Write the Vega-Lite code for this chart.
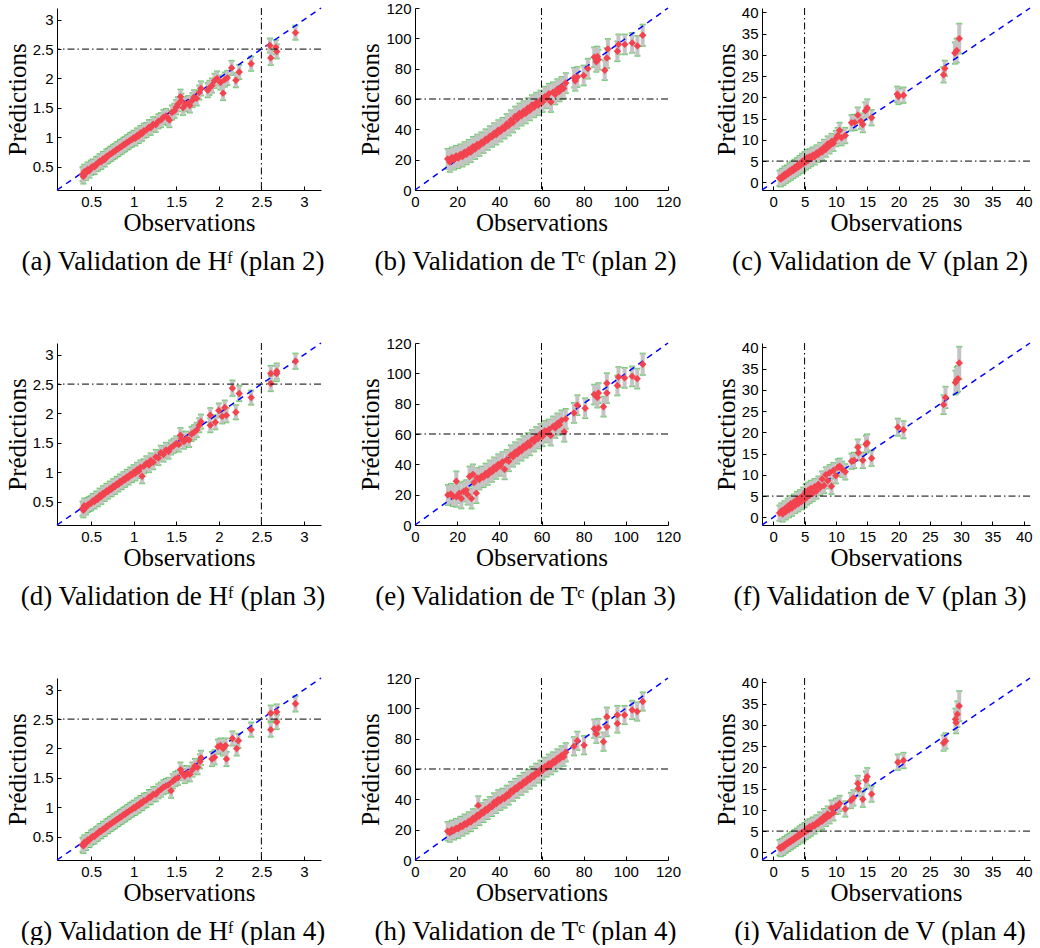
{
"$schema": "https://vega.github.io/schema/vega-lite/v6.json",
"padding": {"left": 5, "top": 1, "right": 0, "bottom": 0},
"background": "white",
"spacing": 335,
"bounds": "flush",
"datasets": {
"a": [{"o":0.40,"p":0.37,"e":0.12},{"o":0.41,"p":0.33,"e":0.12},{"o":0.42,"p":0.41,"e":0.12},{"o":0.44,"p":0.39,"e":0.12},{"o":0.46,"p":0.45,"e":0.12},{"o":0.48,"p":0.43,"e":0.12},{"o":0.50,"p":0.48,"e":0.12},{"o":0.52,"p":0.50,"e":0.12},{"o":0.54,"p":0.49,"e":0.12},{"o":0.56,"p":0.54,"e":0.12},{"o":0.58,"p":0.55,"e":0.12},{"o":0.60,"p":0.59,"e":0.12},{"o":0.62,"p":0.58,"e":0.12},{"o":0.64,"p":0.63,"e":0.12},{"o":0.66,"p":0.62,"e":0.12},{"o":0.68,"p":0.67,"e":0.12},{"o":0.70,"p":0.68,"e":0.12},{"o":0.72,"p":0.71,"e":0.12},{"o":0.74,"p":0.72,"e":0.12},{"o":0.76,"p":0.75,"e":0.12},{"o":0.78,"p":0.76,"e":0.12},{"o":0.80,"p":0.79,"e":0.12},{"o":0.82,"p":0.80,"e":0.12},{"o":0.84,"p":0.83,"e":0.12},{"o":0.86,"p":0.84,"e":0.12},{"o":0.88,"p":0.87,"e":0.12},{"o":0.90,"p":0.88,"e":0.12},{"o":0.92,"p":0.91,"e":0.12},{"o":0.94,"p":0.92,"e":0.12},{"o":0.96,"p":0.95,"e":0.12},{"o":0.98,"p":0.96,"e":0.12},{"o":1.00,"p":0.99,"e":0.12},{"o":1.02,"p":0.98,"e":0.12},{"o":1.04,"p":1.03,"e":0.12},{"o":1.06,"p":1.02,"e":0.12},{"o":1.08,"p":1.07,"e":0.12},{"o":1.10,"p":1.06,"e":0.12},{"o":1.12,"p":1.11,"e":0.12},{"o":1.15,"p":1.12,"e":0.12},{"o":1.18,"p":1.17,"e":0.12},{"o":1.20,"p":1.16,"e":0.12},{"o":1.23,"p":1.22,"e":0.12},{"o":1.26,"p":1.21,"e":0.12},{"o":1.29,"p":1.27,"e":0.12},{"o":1.32,"p":1.29,"e":0.12},{"o":1.35,"p":1.34,"e":0.12},{"o":1.38,"p":1.36,"e":0.12},{"o":1.40,"p":1.33,"e":0.12},{"o":1.42,"p":1.29,"e":0.12},{"o":1.45,"p":1.42,"e":0.12},{"o":1.48,"p":1.45,"e":0.12},{"o":1.50,"p":1.51,"e":0.12},{"o":1.52,"p":1.56,"e":0.12},{"o":1.55,"p":1.69,"e":0.12},{"o":1.56,"p":1.62,"e":0.12},{"o":1.58,"p":1.50,"e":0.12},{"o":1.61,"p":1.56,"e":0.12},{"o":1.64,"p":1.58,"e":0.12},{"o":1.66,"p":1.54,"e":0.12},{"o":1.69,"p":1.63,"e":0.12},{"o":1.71,"p":1.68,"e":0.12},{"o":1.74,"p":1.66,"e":0.12},{"o":1.77,"p":1.76,"e":0.12},{"o":1.79,"p":1.83,"e":0.12},{"o":1.87,"p":1.80,"e":0.12},{"o":1.89,"p":1.84,"e":0.12},{"o":1.92,"p":1.88,"e":0.12},{"o":1.95,"p":1.96,"e":0.12},{"o":1.98,"p":2.00,"e":0.12},{"o":2.02,"p":1.93,"e":0.12},{"o":2.05,"p":1.75,"e":0.12},{"o":2.07,"p":1.98,"e":0.12},{"o":2.10,"p":2.01,"e":0.12},{"o":2.15,"p":2.18,"e":0.12},{"o":2.20,"p":1.97,"e":0.12},{"o":2.24,"p":2.11,"e":0.12},{"o":2.38,"p":2.25,"e":0.12},{"o":2.60,"p":2.56,"e":0.12},{"o":2.61,"p":2.35,"e":0.12},{"o":2.67,"p":2.53,"e":0.12},{"o":2.68,"p":2.46,"e":0.12},{"o":2.90,"p":2.78,"e":0.12}],
"d": [{"o":0.40,"p":0.38,"e":0.12},{"o":0.41,"p":0.35,"e":0.12},{"o":0.42,"p":0.43,"e":0.12},{"o":0.44,"p":0.40,"e":0.12},{"o":0.46,"p":0.44,"e":0.12},{"o":0.48,"p":0.46,"e":0.12},{"o":0.50,"p":0.47,"e":0.12},{"o":0.52,"p":0.51,"e":0.12},{"o":0.54,"p":0.50,"e":0.12},{"o":0.56,"p":0.55,"e":0.12},{"o":0.58,"p":0.54,"e":0.12},{"o":0.60,"p":0.60,"e":0.12},{"o":0.62,"p":0.58,"e":0.12},{"o":0.64,"p":0.64,"e":0.12},{"o":0.66,"p":0.63,"e":0.12},{"o":0.68,"p":0.68,"e":0.12},{"o":0.70,"p":0.67,"e":0.12},{"o":0.72,"p":0.72,"e":0.12},{"o":0.74,"p":0.71,"e":0.12},{"o":0.76,"p":0.76,"e":0.12},{"o":0.78,"p":0.75,"e":0.12},{"o":0.80,"p":0.80,"e":0.12},{"o":0.82,"p":0.79,"e":0.12},{"o":0.84,"p":0.84,"e":0.12},{"o":0.86,"p":0.83,"e":0.12},{"o":0.88,"p":0.88,"e":0.12},{"o":0.90,"p":0.87,"e":0.12},{"o":0.92,"p":0.92,"e":0.12},{"o":0.94,"p":0.91,"e":0.12},{"o":0.96,"p":0.96,"e":0.12},{"o":0.98,"p":0.95,"e":0.12},{"o":1.00,"p":1.00,"e":0.12},{"o":1.02,"p":0.98,"e":0.12},{"o":1.04,"p":1.04,"e":0.12},{"o":1.06,"p":1.02,"e":0.12},{"o":1.08,"p":1.08,"e":0.12},{"o":1.10,"p":0.93,"e":0.12},{"o":1.12,"p":1.10,"e":0.12},{"o":1.15,"p":1.15,"e":0.12},{"o":1.18,"p":1.12,"e":0.12},{"o":1.20,"p":1.20,"e":0.12},{"o":1.23,"p":1.17,"e":0.12},{"o":1.26,"p":1.26,"e":0.12},{"o":1.29,"p":1.24,"e":0.12},{"o":1.32,"p":1.33,"e":0.12},{"o":1.35,"p":1.30,"e":0.12},{"o":1.38,"p":1.38,"e":0.12},{"o":1.41,"p":1.35,"e":0.12},{"o":1.44,"p":1.42,"e":0.12},{"o":1.47,"p":1.45,"e":0.12},{"o":1.50,"p":1.49,"e":0.12},{"o":1.53,"p":1.47,"e":0.12},{"o":1.55,"p":1.63,"e":0.12},{"o":1.56,"p":1.57,"e":0.12},{"o":1.59,"p":1.52,"e":0.12},{"o":1.62,"p":1.57,"e":0.12},{"o":1.65,"p":1.55,"e":0.12},{"o":1.68,"p":1.65,"e":0.12},{"o":1.71,"p":1.68,"e":0.12},{"o":1.74,"p":1.72,"e":0.12},{"o":1.77,"p":1.80,"e":0.12},{"o":1.79,"p":1.86,"e":0.12},{"o":1.90,"p":1.80,"e":0.12},{"o":1.90,"p":1.97,"e":0.12},{"o":1.96,"p":1.85,"e":0.12},{"o":2.00,"p":2.05,"e":0.12},{"o":2.04,"p":1.95,"e":0.12},{"o":2.07,"p":2.10,"e":0.12},{"o":2.09,"p":1.97,"e":0.12},{"o":2.16,"p":2.43,"e":0.13},{"o":2.20,"p":2.02,"e":0.12},{"o":2.24,"p":2.34,"e":0.13},{"o":2.38,"p":2.27,"e":0.12},{"o":2.61,"p":2.68,"e":0.13},{"o":2.61,"p":2.51,"e":0.13},{"o":2.68,"p":2.68,"e":0.13},{"o":2.68,"p":2.72,"e":0.13},{"o":2.90,"p":2.89,"e":0.13}],
"g": [{"o":0.40,"p":0.36,"e":0.12},{"o":0.41,"p":0.34,"e":0.12},{"o":0.42,"p":0.40,"e":0.12},{"o":0.44,"p":0.39,"e":0.12},{"o":0.46,"p":0.44,"e":0.12},{"o":0.48,"p":0.44,"e":0.12},{"o":0.50,"p":0.48,"e":0.12},{"o":0.52,"p":0.50,"e":0.12},{"o":0.54,"p":0.50,"e":0.12},{"o":0.56,"p":0.54,"e":0.12},{"o":0.58,"p":0.55,"e":0.12},{"o":0.60,"p":0.59,"e":0.12},{"o":0.62,"p":0.59,"e":0.12},{"o":0.64,"p":0.63,"e":0.12},{"o":0.66,"p":0.63,"e":0.12},{"o":0.68,"p":0.67,"e":0.12},{"o":0.70,"p":0.68,"e":0.12},{"o":0.72,"p":0.71,"e":0.12},{"o":0.74,"p":0.72,"e":0.12},{"o":0.76,"p":0.75,"e":0.12},{"o":0.78,"p":0.76,"e":0.12},{"o":0.80,"p":0.79,"e":0.12},{"o":0.82,"p":0.80,"e":0.12},{"o":0.84,"p":0.83,"e":0.12},{"o":0.86,"p":0.84,"e":0.12},{"o":0.88,"p":0.87,"e":0.12},{"o":0.90,"p":0.88,"e":0.12},{"o":0.92,"p":0.91,"e":0.12},{"o":0.94,"p":0.92,"e":0.12},{"o":0.96,"p":0.95,"e":0.12},{"o":0.98,"p":0.96,"e":0.12},{"o":1.00,"p":0.99,"e":0.12},{"o":1.02,"p":0.99,"e":0.12},{"o":1.04,"p":1.03,"e":0.12},{"o":1.06,"p":1.03,"e":0.12},{"o":1.08,"p":1.07,"e":0.12},{"o":1.10,"p":1.07,"e":0.12},{"o":1.12,"p":1.11,"e":0.12},{"o":1.15,"p":1.12,"e":0.12},{"o":1.18,"p":1.17,"e":0.12},{"o":1.20,"p":1.17,"e":0.12},{"o":1.23,"p":1.22,"e":0.12},{"o":1.26,"p":1.22,"e":0.12},{"o":1.29,"p":1.27,"e":0.12},{"o":1.32,"p":1.30,"e":0.12},{"o":1.35,"p":1.34,"e":0.12},{"o":1.38,"p":1.36,"e":0.12},{"o":1.41,"p":1.38,"e":0.12},{"o":1.44,"p":1.28,"e":0.12},{"o":1.46,"p":1.44,"e":0.12},{"o":1.49,"p":1.48,"e":0.12},{"o":1.52,"p":1.50,"e":0.12},{"o":1.55,"p":1.64,"e":0.12},{"o":1.57,"p":1.58,"e":0.12},{"o":1.60,"p":1.53,"e":0.12},{"o":1.63,"p":1.58,"e":0.12},{"o":1.66,"p":1.56,"e":0.12},{"o":1.69,"p":1.64,"e":0.12},{"o":1.72,"p":1.70,"e":0.12},{"o":1.75,"p":1.68,"e":0.12},{"o":1.78,"p":1.78,"e":0.12},{"o":1.79,"p":1.84,"e":0.12},{"o":1.92,"p":1.82,"e":0.12},{"o":1.95,"p":1.85,"e":0.12},{"o":1.99,"p":2.03,"e":0.12},{"o":2.02,"p":2.05,"e":0.12},{"o":2.05,"p":2.00,"e":0.12},{"o":2.08,"p":2.05,"e":0.12},{"o":2.09,"p":1.82,"e":0.12},{"o":2.16,"p":2.17,"e":0.12},{"o":2.21,"p":2.00,"e":0.12},{"o":2.23,"p":2.13,"e":0.12},{"o":2.38,"p":2.32,"e":0.12},{"o":2.61,"p":2.60,"e":0.13},{"o":2.61,"p":2.32,"e":0.12},{"o":2.68,"p":2.62,"e":0.13},{"o":2.68,"p":2.45,"e":0.12},{"o":2.90,"p":2.76,"e":0.13}],
"b": [{"o":15.5,"p":20.5,"e":6.5},{"o":16.5,"p":18.5,"e":6.5},{"o":17.5,"p":21.5,"e":6.5},{"o":18.5,"p":20,"e":6.5},{"o":19.5,"p":22.5,"e":6.5},{"o":20.5,"p":21,"e":6.5},{"o":21.5,"p":23.5,"e":6.5},{"o":22.5,"p":22,"e":6.5},{"o":23.5,"p":25,"e":6.5},{"o":24.5,"p":23.5,"e":6.5},{"o":25.5,"p":26.5,"e":6.5},{"o":26.5,"p":25,"e":6.5},{"o":27.5,"p":28.5,"e":6.5},{"o":28.5,"p":27,"e":6.5},{"o":29.5,"p":30,"e":6.5},{"o":30.5,"p":29,"e":6.5},{"o":31.5,"p":31.5,"e":6.5},{"o":32.5,"p":31,"e":6.5},{"o":33.5,"p":33.5,"e":6.5},{"o":34.5,"p":33,"e":6.5},{"o":35.5,"p":35.5,"e":6.5},{"o":36.5,"p":35,"e":6.5},{"o":37.5,"p":37.5,"e":6.5},{"o":38.5,"p":36.5,"e":6.5},{"o":39.5,"p":39.5,"e":6.5},{"o":40.5,"p":38.5,"e":6.5},{"o":41.5,"p":41,"e":6.5},{"o":42.5,"p":40.5,"e":6.5},{"o":43.5,"p":43.5,"e":6.5},{"o":44.5,"p":42.5,"e":6.5},{"o":45.5,"p":46,"e":6.5},{"o":46.5,"p":44.5,"e":6.5},{"o":47.5,"p":48.5,"e":6.5},{"o":48.5,"p":47,"e":6.5},{"o":49.5,"p":50.5,"e":6.5},{"o":50.5,"p":49,"e":6.5},{"o":51.5,"p":52,"e":6.5},{"o":52.5,"p":50.5,"e":6.5},{"o":53.5,"p":54,"e":6.5},{"o":54.5,"p":52.5,"e":6.5},{"o":55.5,"p":56,"e":6.5},{"o":56.5,"p":54.5,"e":6.5},{"o":57.5,"p":57.5,"e":6.5},{"o":58.5,"p":56,"e":6.5},{"o":59.5,"p":59,"e":6.5},{"o":60.5,"p":58,"e":6.5},{"o":61.5,"p":61.5,"e":6.5},{"o":62.5,"p":60.5,"e":6.5},{"o":63.5,"p":63.5,"e":6.5},{"o":64.5,"p":58,"e":6.5},{"o":65.5,"p":64.5,"e":6.5},{"o":66.5,"p":63,"e":6.5},{"o":67.5,"p":66.5,"e":6.5},{"o":68.5,"p":65,"e":6.5},{"o":69.5,"p":68,"e":6.5},{"o":70.5,"p":67,"e":6.5},{"o":71.5,"p":70.5,"e":6.5},{"o":75.5,"p":74,"e":6.5},{"o":76,"p":72,"e":6.5},{"o":77,"p":74.5,"e":6.5},{"o":80,"p":75.5,"e":6.5},{"o":82,"p":80,"e":6.5},{"o":85,"p":87.5,"e":6.5},{"o":86,"p":84.5,"e":6.5},{"o":86.5,"p":88,"e":6.5},{"o":87,"p":86,"e":6.5},{"o":90,"p":79,"e":6.5},{"o":91,"p":87,"e":6.5},{"o":91.5,"p":93,"e":6.5},{"o":96,"p":91.5,"e":6.5},{"o":96.5,"p":96,"e":6.5},{"o":99.5,"p":96,"e":6.5},{"o":103,"p":97,"e":6.5},{"o":105.5,"p":95,"e":6.5},{"o":108,"p":102,"e":7}],
"e": [{"o":15.6,"p":19.8,"e":6.5},{"o":17,"p":20.5,"e":6.5},{"o":18,"p":19,"e":6.5},{"o":19.6,"p":28.8,"e":6.5},{"o":19.6,"p":18.6,"e":6.5},{"o":21,"p":21,"e":6.5},{"o":22,"p":17.5,"e":6.5},{"o":23,"p":22,"e":6.5},{"o":24.3,"p":23,"e":6.5},{"o":25,"p":20,"e":6.5},{"o":25.9,"p":32,"e":6.5},{"o":26.8,"p":17.4,"e":6.5},{"o":27.5,"p":33.4,"e":6.5},{"o":28,"p":28,"e":6.5},{"o":29.1,"p":21,"e":6.5},{"o":29.5,"p":31,"e":6.5},{"o":30.5,"p":30,"e":6.5},{"o":31.5,"p":32,"e":6.5},{"o":32.5,"p":31.5,"e":6.5},{"o":33.5,"p":34,"e":6.5},{"o":34.5,"p":33,"e":6.5},{"o":35.5,"p":36,"e":6.5},{"o":36.5,"p":35,"e":6.5},{"o":37.5,"p":38,"e":6.5},{"o":38.5,"p":37,"e":6.5},{"o":39.5,"p":40,"e":6.5},{"o":40.5,"p":39,"e":6.5},{"o":41.5,"p":41.5,"e":6.5},{"o":42.5,"p":36.7,"e":6.5},{"o":43.5,"p":43,"e":6.5},{"o":44.5,"p":42,"e":6.5},{"o":45.5,"p":46,"e":6.5},{"o":46.5,"p":45,"e":6.5},{"o":47.5,"p":48,"e":6.5},{"o":48.5,"p":47,"e":6.5},{"o":49.5,"p":50,"e":6.5},{"o":50.5,"p":49,"e":6.5},{"o":51.5,"p":52,"e":6.5},{"o":52.5,"p":51,"e":6.5},{"o":53.5,"p":54,"e":6.5},{"o":54.5,"p":52.5,"e":6.5},{"o":55.5,"p":56,"e":6.5},{"o":56.5,"p":55,"e":6.5},{"o":57.5,"p":58,"e":6.5},{"o":58.5,"p":57,"e":6.5},{"o":59.5,"p":60,"e":6.5},{"o":60.5,"p":58.5,"e":6.5},{"o":61.5,"p":62,"e":6.5},{"o":62.5,"p":61,"e":6.5},{"o":63.5,"p":63,"e":6.5},{"o":64.4,"p":59,"e":6.5},{"o":65.5,"p":65,"e":6.5},{"o":66.5,"p":64,"e":6.5},{"o":67.5,"p":67,"e":6.5},{"o":68.5,"p":66,"e":6.5},{"o":69.5,"p":69,"e":6.5},{"o":70.8,"p":61.5,"e":6.5},{"o":71.5,"p":70,"e":6.5},{"o":75.4,"p":73.9,"e":6.5},{"o":77,"p":79,"e":6.5},{"o":80.7,"p":77,"e":6.5},{"o":85,"p":86,"e":6.5},{"o":86.5,"p":84,"e":6.5},{"o":87,"p":87,"e":6.5},{"o":89.4,"p":78,"e":6.5},{"o":91,"p":87,"e":6.5},{"o":91,"p":93.5,"e":6.5},{"o":96,"p":92,"e":6.5},{"o":96.5,"p":97.6,"e":6.5},{"o":99.4,"p":97,"e":6.5},{"o":103,"p":98,"e":6.5},{"o":105.4,"p":96.5,"e":6.5},{"o":108,"p":106,"e":7}],
"h": [{"o":15.5,"p":19,"e":6},{"o":16.5,"p":18,"e":6},{"o":17.5,"p":20,"e":6},{"o":18.5,"p":19.5,"e":6},{"o":19.5,"p":21,"e":6},{"o":20.5,"p":20.5,"e":6},{"o":21.5,"p":22.5,"e":6},{"o":22.5,"p":22,"e":6},{"o":23.5,"p":24,"e":6},{"o":24.5,"p":23.5,"e":6},{"o":25.5,"p":25.5,"e":6},{"o":26.5,"p":25,"e":6},{"o":27.5,"p":27.5,"e":6},{"o":28.5,"p":27,"e":6},{"o":29.5,"p":29.5,"e":6},{"o":30,"p":36,"e":6},{"o":30.5,"p":29,"e":6},{"o":31.5,"p":31.5,"e":6},{"o":32.5,"p":31,"e":6},{"o":33.5,"p":33.5,"e":6},{"o":34.5,"p":33,"e":6},{"o":35.5,"p":35.5,"e":6},{"o":36.5,"p":35,"e":6},{"o":37.5,"p":38,"e":6},{"o":38.5,"p":37,"e":6},{"o":39.5,"p":40,"e":6},{"o":40.5,"p":39,"e":6},{"o":41.5,"p":41,"e":6},{"o":42.5,"p":40.5,"e":6},{"o":43.5,"p":43,"e":6},{"o":44.5,"p":42.5,"e":6},{"o":45.5,"p":45.5,"e":6},{"o":46.5,"p":45,"e":6},{"o":47.5,"p":47.5,"e":6},{"o":48.5,"p":47,"e":6},{"o":49.5,"p":49.5,"e":6},{"o":50.5,"p":49,"e":6},{"o":51.5,"p":51.5,"e":6},{"o":52.5,"p":51,"e":6},{"o":53.5,"p":53.5,"e":6},{"o":54.5,"p":53,"e":6},{"o":55.5,"p":55.5,"e":6},{"o":56.5,"p":55,"e":6},{"o":57.5,"p":57.5,"e":6},{"o":58.5,"p":57,"e":6},{"o":59.5,"p":59.5,"e":6},{"o":60.5,"p":59,"e":6},{"o":61.5,"p":61.5,"e":6},{"o":62.5,"p":61,"e":6},{"o":63.5,"p":63.5,"e":6},{"o":64.5,"p":62.5,"e":6},{"o":65.5,"p":65,"e":6},{"o":66.5,"p":64.5,"e":6},{"o":67.5,"p":67,"e":6},{"o":68.5,"p":66.5,"e":6},{"o":69.5,"p":69,"e":6},{"o":70.5,"p":68,"e":6},{"o":71.5,"p":71,"e":6},{"o":75.4,"p":75,"e":6},{"o":77,"p":78.6,"e":6},{"o":80.2,"p":75.7,"e":6},{"o":85,"p":86.6,"e":6},{"o":86,"p":83.2,"e":6},{"o":87,"p":87,"e":6},{"o":89.4,"p":78,"e":6},{"o":91,"p":94.5,"e":6},{"o":91,"p":87.7,"e":6},{"o":96,"p":95.6,"e":6},{"o":96,"p":90,"e":6},{"o":99.4,"p":95.6,"e":6},{"o":103,"p":98.9,"e":6},{"o":105.4,"p":97.9,"e":6},{"o":108,"p":104.5,"e":6}],
"c": [{"o":1.0,"p":1.0,"e":1.8},{"o":1.2,"p":0.8,"e":1.8},{"o":1.4,"p":1.4,"e":1.8},{"o":1.6,"p":1.2,"e":1.8},{"o":1.8,"p":1.9,"e":1.8},{"o":2.0,"p":1.6,"e":1.8},{"o":2.2,"p":2.2,"e":1.8},{"o":2.4,"p":2.0,"e":1.8},{"o":2.6,"p":2.7,"e":1.8},{"o":2.8,"p":2.4,"e":1.8},{"o":3.0,"p":3.1,"e":1.8},{"o":3.2,"p":2.8,"e":1.8},{"o":3.4,"p":3.5,"e":1.8},{"o":3.6,"p":3.2,"e":1.8},{"o":3.8,"p":3.9,"e":1.8},{"o":4.0,"p":3.6,"e":1.8},{"o":4.2,"p":4.4,"e":1.8},{"o":4.4,"p":4.0,"e":1.8},{"o":4.6,"p":4.9,"e":1.8},{"o":4.8,"p":4.4,"e":1.8},{"o":5.0,"p":5.3,"e":1.8},{"o":5.2,"p":4.8,"e":1.8},{"o":5.4,"p":5.8,"e":1.8},{"o":5.6,"p":5.2,"e":1.8},{"o":5.8,"p":6.0,"e":1.8},{"o":6.0,"p":5.6,"e":1.8},{"o":6.3,"p":6.4,"e":1.8},{"o":6.6,"p":6.0,"e":1.8},{"o":6.9,"p":6.9,"e":1.8},{"o":7.2,"p":6.6,"e":1.8},{"o":7.5,"p":7.5,"e":1.8},{"o":7.8,"p":7.1,"e":1.8},{"o":8.1,"p":8.2,"e":1.8},{"o":8.4,"p":7.8,"e":1.8},{"o":8.7,"p":9.0,"e":1.8},{"o":9.0,"p":8.6,"e":1.8},{"o":9.3,"p":9.6,"e":1.8},{"o":9.6,"p":9.2,"e":1.8},{"o":10.0,"p":10.3,"e":1.8},{"o":10.3,"p":11.0,"e":1.8},{"o":10.6,"p":12.2,"e":1.8},{"o":10.9,"p":10.5,"e":1.8},{"o":11.5,"p":11.0,"e":1.8},{"o":12.5,"p":14.0,"e":1.8},{"o":13.0,"p":14.1,"e":1.8},{"o":13.5,"p":15.8,"e":1.8},{"o":14.0,"p":14.4,"e":1.8},{"o":14.3,"p":13.6,"e":1.8},{"o":14.7,"p":16.8,"e":2},{"o":15.0,"p":17.5,"e":2},{"o":15.7,"p":15.2,"e":1.8},{"o":19.8,"p":20.7,"e":1.8},{"o":20.0,"p":20.2,"e":1.8},{"o":20.8,"p":20.5,"e":1.8},{"o":27.2,"p":25.3,"e":1.8},{"o":27.4,"p":26.8,"e":1.8},{"o":29.0,"p":30.4,"e":2.5},{"o":29.3,"p":31.0,"e":2.8},{"o":29.7,"p":33.8,"e":3.5}],
"f": [{"o":1.0,"p":1.0,"e":1.8},{"o":1.3,"p":1.5,"e":1.8},{"o":1.5,"p":0.8,"e":1.8},{"o":1.8,"p":2.0,"e":1.8},{"o":2.0,"p":1.3,"e":1.8},{"o":2.3,"p":2.6,"e":1.8},{"o":2.5,"p":1.8,"e":1.8},{"o":2.8,"p":3.2,"e":1.8},{"o":3.0,"p":2.2,"e":1.8},{"o":3.3,"p":3.6,"e":1.8},{"o":3.5,"p":2.8,"e":1.8},{"o":3.8,"p":4.2,"e":1.8},{"o":4.0,"p":3.2,"e":1.8},{"o":4.3,"p":4.6,"e":1.8},{"o":4.5,"p":3.7,"e":1.8},{"o":4.8,"p":5.2,"e":1.8},{"o":5.0,"p":4.2,"e":1.8},{"o":5.2,"p":6.0,"e":1.8},{"o":5.4,"p":4.8,"e":1.8},{"o":5.6,"p":6.4,"e":1.8},{"o":5.8,"p":5.2,"e":1.8},{"o":6.0,"p":6.8,"e":1.8},{"o":6.3,"p":5.6,"e":1.8},{"o":6.6,"p":7.2,"e":1.8},{"o":6.9,"p":6.2,"e":1.8},{"o":7.2,"p":7.8,"e":1.8},{"o":7.5,"p":7.0,"e":1.8},{"o":7.8,"p":9.0,"e":1.8},{"o":8.1,"p":7.5,"e":1.8},{"o":8.4,"p":10.0,"e":1.8},{"o":8.7,"p":8.6,"e":1.8},{"o":9.0,"p":10.5,"e":1.8},{"o":9.3,"p":7.3,"e":1.8},{"o":9.6,"p":11.0,"e":1.8},{"o":10.0,"p":9.8,"e":1.8},{"o":10.3,"p":11.8,"e":1.8},{"o":10.6,"p":12.0,"e":1.8},{"o":11.0,"p":11.3,"e":1.8},{"o":11.5,"p":10.7,"e":1.8},{"o":12.5,"p":13.2,"e":1.8},{"o":12.9,"p":13.4,"e":1.8},{"o":13.5,"p":16.5,"e":1.8},{"o":13.6,"p":15.2,"e":1.8},{"o":14.3,"p":13.4,"e":1.8},{"o":14.8,"p":17.2,"e":2},{"o":15.0,"p":17.5,"e":2},{"o":15.7,"p":13.9,"e":1.8},{"o":19.9,"p":21.2,"e":2},{"o":20.8,"p":20.6,"e":2},{"o":27.2,"p":26.5,"e":2.2},{"o":27.5,"p":28.2,"e":2.5},{"o":29.1,"p":31.7,"e":2.8},{"o":29.3,"p":32.3,"e":3},{"o":29.5,"p":32.6,"e":3},{"o":29.7,"p":36.3,"e":3.8}],
"i": [{"o":1.0,"p":1.1,"e":1.8},{"o":1.2,"p":0.9,"e":1.8},{"o":1.4,"p":1.4,"e":1.8},{"o":1.6,"p":1.2,"e":1.8},{"o":1.8,"p":1.8,"e":1.8},{"o":2.0,"p":1.7,"e":1.8},{"o":2.2,"p":2.2,"e":1.8},{"o":2.4,"p":2.1,"e":1.8},{"o":2.6,"p":2.6,"e":1.8},{"o":2.8,"p":2.5,"e":1.8},{"o":3.0,"p":3.0,"e":1.8},{"o":3.2,"p":2.9,"e":1.8},{"o":3.4,"p":3.4,"e":1.8},{"o":3.6,"p":3.3,"e":1.8},{"o":3.8,"p":3.8,"e":1.8},{"o":4.0,"p":3.7,"e":1.8},{"o":4.2,"p":4.3,"e":1.8},{"o":4.4,"p":4.1,"e":1.8},{"o":4.6,"p":4.7,"e":1.8},{"o":4.8,"p":4.5,"e":1.8},{"o":5.0,"p":5.1,"e":1.8},{"o":5.2,"p":4.9,"e":1.8},{"o":5.4,"p":5.6,"e":1.8},{"o":5.6,"p":5.3,"e":1.8},{"o":5.8,"p":6.0,"e":1.8},{"o":6.0,"p":5.7,"e":1.8},{"o":6.3,"p":6.4,"e":1.8},{"o":6.6,"p":6.2,"e":1.8},{"o":6.9,"p":6.9,"e":1.8},{"o":7.2,"p":6.8,"e":1.8},{"o":7.5,"p":7.6,"e":1.8},{"o":7.8,"p":7.3,"e":1.8},{"o":8.1,"p":8.4,"e":1.8},{"o":8.4,"p":8.0,"e":1.8},{"o":8.7,"p":9.0,"e":1.8},{"o":9.0,"p":8.6,"e":1.8},{"o":9.3,"p":10.4,"e":1.8},{"o":9.6,"p":9.3,"e":1.8},{"o":10.0,"p":10.8,"e":1.8},{"o":10.3,"p":10.9,"e":1.8},{"o":10.6,"p":11.5,"e":1.8},{"o":11.5,"p":10.2,"e":1.8},{"o":12.4,"p":12.2,"e":1.8},{"o":12.8,"p":12.8,"e":1.8},{"o":13.5,"p":16.2,"e":1.8},{"o":13.6,"p":15.0,"e":1.8},{"o":14.3,"p":12.5,"e":1.8},{"o":14.8,"p":17.0,"e":2},{"o":15.0,"p":17.8,"e":2},{"o":15.7,"p":13.7,"e":1.8},{"o":19.9,"p":21.2,"e":1.8},{"o":20.8,"p":21.6,"e":1.8},{"o":27.2,"p":25.7,"e":1.8},{"o":27.5,"p":26.2,"e":1.8},{"o":29.1,"p":31.3,"e":2.5},{"o":29.2,"p":30.5,"e":2.5},{"o":29.4,"p":32.5,"e":3},{"o":29.7,"p":34.4,"e":3.5}]
},
"vconcat": [
{"hconcat": [
{"width": 264, "height": 182, "title": "(a) Validation de Hᶠ (plan 2)", "layer": [
{"data": {"name": "a"}, "mark": {"type": "errorbar", "color": "#c4c4c4", "thickness": 4, "ticks": {"color": "#3db83d", "size": 6, "thickness": 2}}, "encoding": {"x": {"field": "o", "type": "quantitative", "title": "Observations"}, "y": {"field": "p", "type": "quantitative", "title": "Prédictions"}, "yError": {"field": "e"}}},
{"data": {"values": [{"s": 0.1, "t": 3.2}]}, "mark": {"type": "rule", "color": "#0000ff", "strokeDash": [6, 5], "strokeWidth": 1.5}, "encoding": {"x": {"field": "s", "type": "quantitative"}, "y": {"field": "s", "type": "quantitative"}, "x2": {"field": "t"}, "y2": {"field": "t"}}},
{"data": {"name": "a"}, "mark": "point", "encoding": {"x": {"field": "o", "type": "quantitative", "scale": {"domain": [0.1, 3.2], "nice": false, "zero": false}, "axis": {"values": [0.5, 1, 1.5, 2, 2.5, 3], "tickCount": 20, "format": "~g", "title": "Observations"}}, "y": {"field": "p", "type": "quantitative", "scale": {"domain": [0.1, 3.2], "nice": false, "zero": false}, "axis": {"values": [0.5, 1, 1.5, 2, 2.5, 3], "tickCount": 20, "format": "~g", "title": "Prédictions"}}}},
{"data": {"values": [{"v": 2.5}]}, "mark": {"type": "rule", "color": "#000", "strokeDash": [7, 3, 1.5, 3]}, "encoding": {"x": {"field": "v", "type": "quantitative"}}},
{"data": {"values": [{"v": 2.5}]}, "mark": {"type": "rule", "color": "#000", "strokeDash": [7, 3, 1.5, 3]}, "encoding": {"y": {"field": "v", "type": "quantitative"}}}
]},
{"width": 253, "height": 182, "title": "(b) Validation de Tᶜ (plan 2)", "layer": [
{"data": {"name": "b"}, "mark": {"type": "errorbar", "color": "#c4c4c4", "thickness": 4, "ticks": {"color": "#3db83d", "size": 6, "thickness": 2}}, "encoding": {"x": {"field": "o", "type": "quantitative", "title": "Observations"}, "y": {"field": "p", "type": "quantitative", "title": "Prédictions"}, "yError": {"field": "e"}}},
{"data": {"values": [{"s": 0, "t": 120}]}, "mark": {"type": "rule", "color": "#0000ff", "strokeDash": [6, 5], "strokeWidth": 1.5}, "encoding": {"x": {"field": "s", "type": "quantitative"}, "y": {"field": "s", "type": "quantitative"}, "x2": {"field": "t"}, "y2": {"field": "t"}}},
{"data": {"name": "b"}, "mark": "point", "encoding": {"x": {"field": "o", "type": "quantitative", "scale": {"domain": [0, 120], "nice": false, "zero": false}, "axis": {"values": [0, 20, 40, 60, 80, 100, 120], "tickCount": 20, "title": "Observations"}}, "y": {"field": "p", "type": "quantitative", "scale": {"domain": [0, 120], "nice": false, "zero": false}, "axis": {"values": [0, 20, 40, 60, 80, 100, 120], "tickCount": 20, "title": "Prédictions"}}}},
{"data": {"values": [{"v": 60}]}, "mark": {"type": "rule", "color": "#000", "strokeDash": [7, 3, 1.5, 3]}, "encoding": {"x": {"field": "v", "type": "quantitative"}}},
{"data": {"values": [{"v": 60}]}, "mark": {"type": "rule", "color": "#000", "strokeDash": [7, 3, 1.5, 3]}, "encoding": {"y": {"field": "v", "type": "quantitative"}}}
]},
{"width": 268, "height": 182, "title": "(c) Validation de V (plan 2)", "layer": [
{"data": {"name": "c"}, "mark": {"type": "errorbar", "color": "#c4c4c4", "thickness": 4, "ticks": {"color": "#3db83d", "size": 6, "thickness": 2}}, "encoding": {"x": {"field": "o", "type": "quantitative", "title": "Observations"}, "y": {"field": "p", "type": "quantitative", "title": "Prédictions"}, "yError": {"field": "e"}}},
{"data": {"values": [{"s": -1.8, "t": 41}]}, "mark": {"type": "rule", "color": "#0000ff", "strokeDash": [6, 5], "strokeWidth": 1.5}, "encoding": {"x": {"field": "s", "type": "quantitative"}, "y": {"field": "s", "type": "quantitative"}, "x2": {"field": "t"}, "y2": {"field": "t"}}},
{"data": {"name": "c"}, "mark": "point", "encoding": {"x": {"field": "o", "type": "quantitative", "scale": {"domain": [-1.8, 41], "nice": false, "zero": false}, "axis": {"values": [0, 5, 10, 15, 20, 25, 30, 35, 40], "tickCount": 20, "title": "Observations"}}, "y": {"field": "p", "type": "quantitative", "scale": {"domain": [-1.8, 41], "nice": false, "zero": false}, "axis": {"values": [0, 5, 10, 15, 20, 25, 30, 35, 40], "tickCount": 20, "title": "Prédictions"}}}},
{"data": {"values": [{"v": 5}]}, "mark": {"type": "rule", "color": "#000", "strokeDash": [7, 3, 1.5, 3]}, "encoding": {"x": {"field": "v", "type": "quantitative"}}},
{"data": {"values": [{"v": 5}]}, "mark": {"type": "rule", "color": "#000", "strokeDash": [7, 3, 1.5, 3]}, "encoding": {"y": {"field": "v", "type": "quantitative"}}}
]}
], "spacing": 94, "bounds": "flush"},
{"hconcat": [
{"width": 264, "height": 182, "title": "(d) Validation de Hᶠ (plan 3)", "layer": [
{"data": {"name": "d"}, "mark": {"type": "errorbar", "color": "#c4c4c4", "thickness": 4, "ticks": {"color": "#3db83d", "size": 6, "thickness": 2}}, "encoding": {"x": {"field": "o", "type": "quantitative", "title": "Observations"}, "y": {"field": "p", "type": "quantitative", "title": "Prédictions"}, "yError": {"field": "e"}}},
{"data": {"values": [{"s": 0.1, "t": 3.2}]}, "mark": {"type": "rule", "color": "#0000ff", "strokeDash": [6, 5], "strokeWidth": 1.5}, "encoding": {"x": {"field": "s", "type": "quantitative"}, "y": {"field": "s", "type": "quantitative"}, "x2": {"field": "t"}, "y2": {"field": "t"}}},
{"data": {"name": "d"}, "mark": "point", "encoding": {"x": {"field": "o", "type": "quantitative", "scale": {"domain": [0.1, 3.2], "nice": false, "zero": false}, "axis": {"values": [0.5, 1, 1.5, 2, 2.5, 3], "tickCount": 20, "format": "~g", "title": "Observations"}}, "y": {"field": "p", "type": "quantitative", "scale": {"domain": [0.1, 3.2], "nice": false, "zero": false}, "axis": {"values": [0.5, 1, 1.5, 2, 2.5, 3], "tickCount": 20, "format": "~g", "title": "Prédictions"}}}},
{"data": {"values": [{"v": 2.5}]}, "mark": {"type": "rule", "color": "#000", "strokeDash": [7, 3, 1.5, 3]}, "encoding": {"x": {"field": "v", "type": "quantitative"}}},
{"data": {"values": [{"v": 2.5}]}, "mark": {"type": "rule", "color": "#000", "strokeDash": [7, 3, 1.5, 3]}, "encoding": {"y": {"field": "v", "type": "quantitative"}}}
]},
{"width": 253, "height": 182, "title": "(e) Validation de Tᶜ (plan 3)", "layer": [
{"data": {"name": "e"}, "mark": {"type": "errorbar", "color": "#c4c4c4", "thickness": 4, "ticks": {"color": "#3db83d", "size": 6, "thickness": 2}}, "encoding": {"x": {"field": "o", "type": "quantitative", "title": "Observations"}, "y": {"field": "p", "type": "quantitative", "title": "Prédictions"}, "yError": {"field": "e"}}},
{"data": {"values": [{"s": 0, "t": 120}]}, "mark": {"type": "rule", "color": "#0000ff", "strokeDash": [6, 5], "strokeWidth": 1.5}, "encoding": {"x": {"field": "s", "type": "quantitative"}, "y": {"field": "s", "type": "quantitative"}, "x2": {"field": "t"}, "y2": {"field": "t"}}},
{"data": {"name": "e"}, "mark": "point", "encoding": {"x": {"field": "o", "type": "quantitative", "scale": {"domain": [0, 120], "nice": false, "zero": false}, "axis": {"values": [0, 20, 40, 60, 80, 100, 120], "tickCount": 20, "title": "Observations"}}, "y": {"field": "p", "type": "quantitative", "scale": {"domain": [0, 120], "nice": false, "zero": false}, "axis": {"values": [0, 20, 40, 60, 80, 100, 120], "tickCount": 20, "title": "Prédictions"}}}},
{"data": {"values": [{"v": 60}]}, "mark": {"type": "rule", "color": "#000", "strokeDash": [7, 3, 1.5, 3]}, "encoding": {"x": {"field": "v", "type": "quantitative"}}},
{"data": {"values": [{"v": 60}]}, "mark": {"type": "rule", "color": "#000", "strokeDash": [7, 3, 1.5, 3]}, "encoding": {"y": {"field": "v", "type": "quantitative"}}}
]},
{"width": 268, "height": 182, "title": "(f) Validation de V (plan 3)", "layer": [
{"data": {"name": "f"}, "mark": {"type": "errorbar", "color": "#c4c4c4", "thickness": 4, "ticks": {"color": "#3db83d", "size": 6, "thickness": 2}}, "encoding": {"x": {"field": "o", "type": "quantitative", "title": "Observations"}, "y": {"field": "p", "type": "quantitative", "title": "Prédictions"}, "yError": {"field": "e"}}},
{"data": {"values": [{"s": -1.8, "t": 41}]}, "mark": {"type": "rule", "color": "#0000ff", "strokeDash": [6, 5], "strokeWidth": 1.5}, "encoding": {"x": {"field": "s", "type": "quantitative"}, "y": {"field": "s", "type": "quantitative"}, "x2": {"field": "t"}, "y2": {"field": "t"}}},
{"data": {"name": "f"}, "mark": "point", "encoding": {"x": {"field": "o", "type": "quantitative", "scale": {"domain": [-1.8, 41], "nice": false, "zero": false}, "axis": {"values": [0, 5, 10, 15, 20, 25, 30, 35, 40], "tickCount": 20, "title": "Observations"}}, "y": {"field": "p", "type": "quantitative", "scale": {"domain": [-1.8, 41], "nice": false, "zero": false}, "axis": {"values": [0, 5, 10, 15, 20, 25, 30, 35, 40], "tickCount": 20, "title": "Prédictions"}}}},
{"data": {"values": [{"v": 5}]}, "mark": {"type": "rule", "color": "#000", "strokeDash": [7, 3, 1.5, 3]}, "encoding": {"x": {"field": "v", "type": "quantitative"}}},
{"data": {"values": [{"v": 5}]}, "mark": {"type": "rule", "color": "#000", "strokeDash": [7, 3, 1.5, 3]}, "encoding": {"y": {"field": "v", "type": "quantitative"}}}
]}
], "spacing": 94, "bounds": "flush"},
{"hconcat": [
{"width": 264, "height": 182, "title": "(g) Validation de Hᶠ (plan 4)", "layer": [
{"data": {"name": "g"}, "mark": {"type": "errorbar", "color": "#c4c4c4", "thickness": 4, "ticks": {"color": "#3db83d", "size": 6, "thickness": 2}}, "encoding": {"x": {"field": "o", "type": "quantitative", "title": "Observations"}, "y": {"field": "p", "type": "quantitative", "title": "Prédictions"}, "yError": {"field": "e"}}},
{"data": {"values": [{"s": 0.1, "t": 3.2}]}, "mark": {"type": "rule", "color": "#0000ff", "strokeDash": [6, 5], "strokeWidth": 1.5}, "encoding": {"x": {"field": "s", "type": "quantitative"}, "y": {"field": "s", "type": "quantitative"}, "x2": {"field": "t"}, "y2": {"field": "t"}}},
{"data": {"name": "g"}, "mark": "point", "encoding": {"x": {"field": "o", "type": "quantitative", "scale": {"domain": [0.1, 3.2], "nice": false, "zero": false}, "axis": {"values": [0.5, 1, 1.5, 2, 2.5, 3], "tickCount": 20, "format": "~g", "title": "Observations"}}, "y": {"field": "p", "type": "quantitative", "scale": {"domain": [0.1, 3.2], "nice": false, "zero": false}, "axis": {"values": [0.5, 1, 1.5, 2, 2.5, 3], "tickCount": 20, "format": "~g", "title": "Prédictions"}}}},
{"data": {"values": [{"v": 2.5}]}, "mark": {"type": "rule", "color": "#000", "strokeDash": [7, 3, 1.5, 3]}, "encoding": {"x": {"field": "v", "type": "quantitative"}}},
{"data": {"values": [{"v": 2.5}]}, "mark": {"type": "rule", "color": "#000", "strokeDash": [7, 3, 1.5, 3]}, "encoding": {"y": {"field": "v", "type": "quantitative"}}}
]},
{"width": 253, "height": 182, "title": "(h) Validation de Tᶜ (plan 4)", "layer": [
{"data": {"name": "h"}, "mark": {"type": "errorbar", "color": "#c4c4c4", "thickness": 4, "ticks": {"color": "#3db83d", "size": 6, "thickness": 2}}, "encoding": {"x": {"field": "o", "type": "quantitative", "title": "Observations"}, "y": {"field": "p", "type": "quantitative", "title": "Prédictions"}, "yError": {"field": "e"}}},
{"data": {"values": [{"s": 0, "t": 120}]}, "mark": {"type": "rule", "color": "#0000ff", "strokeDash": [6, 5], "strokeWidth": 1.5}, "encoding": {"x": {"field": "s", "type": "quantitative"}, "y": {"field": "s", "type": "quantitative"}, "x2": {"field": "t"}, "y2": {"field": "t"}}},
{"data": {"name": "h"}, "mark": "point", "encoding": {"x": {"field": "o", "type": "quantitative", "scale": {"domain": [0, 120], "nice": false, "zero": false}, "axis": {"values": [0, 20, 40, 60, 80, 100, 120], "tickCount": 20, "title": "Observations"}}, "y": {"field": "p", "type": "quantitative", "scale": {"domain": [0, 120], "nice": false, "zero": false}, "axis": {"values": [0, 20, 40, 60, 80, 100, 120], "tickCount": 20, "title": "Prédictions"}}}},
{"data": {"values": [{"v": 60}]}, "mark": {"type": "rule", "color": "#000", "strokeDash": [7, 3, 1.5, 3]}, "encoding": {"x": {"field": "v", "type": "quantitative"}}},
{"data": {"values": [{"v": 60}]}, "mark": {"type": "rule", "color": "#000", "strokeDash": [7, 3, 1.5, 3]}, "encoding": {"y": {"field": "v", "type": "quantitative"}}}
]},
{"width": 268, "height": 182, "title": "(i) Validation de V (plan 4)", "layer": [
{"data": {"name": "i"}, "mark": {"type": "errorbar", "color": "#c4c4c4", "thickness": 4, "ticks": {"color": "#3db83d", "size": 6, "thickness": 2}}, "encoding": {"x": {"field": "o", "type": "quantitative", "title": "Observations"}, "y": {"field": "p", "type": "quantitative", "title": "Prédictions"}, "yError": {"field": "e"}}},
{"data": {"values": [{"s": -1.8, "t": 41}]}, "mark": {"type": "rule", "color": "#0000ff", "strokeDash": [6, 5], "strokeWidth": 1.5}, "encoding": {"x": {"field": "s", "type": "quantitative"}, "y": {"field": "s", "type": "quantitative"}, "x2": {"field": "t"}, "y2": {"field": "t"}}},
{"data": {"name": "i"}, "mark": "point", "encoding": {"x": {"field": "o", "type": "quantitative", "scale": {"domain": [-1.8, 41], "nice": false, "zero": false}, "axis": {"values": [0, 5, 10, 15, 20, 25, 30, 35, 40], "tickCount": 20, "title": "Observations"}}, "y": {"field": "p", "type": "quantitative", "scale": {"domain": [-1.8, 41], "nice": false, "zero": false}, "axis": {"values": [0, 5, 10, 15, 20, 25, 30, 35, 40], "tickCount": 20, "title": "Prédictions"}}}},
{"data": {"values": [{"v": 5}]}, "mark": {"type": "rule", "color": "#000", "strokeDash": [7, 3, 1.5, 3]}, "encoding": {"x": {"field": "v", "type": "quantitative"}}},
{"data": {"values": [{"v": 5}]}, "mark": {"type": "rule", "color": "#000", "strokeDash": [7, 3, 1.5, 3]}, "encoding": {"y": {"field": "v", "type": "quantitative"}}}
]}
], "spacing": 94, "bounds": "flush"}
],
"config": {
"view": {"stroke": null},
"point": {"shape": "diamond", "filled": true, "color": "#f2434f", "size": 55, "opacity": 1},
"axis": {"grid": false, "domainColor": "#000", "domainWidth": 1, "tickColor": "#000", "tickSize": -4, "labelFont": "Liberation Sans", "labelFontSize": 15, "labelColor": "#000", "labelPadding": 8, "labelFlush": false, "labelOverlap": false, "titleFont": "Liberation Serif", "titleFontSize": 25, "titleFontWeight": "normal", "titleColor": "#000", "titlePadding": 1},
"axisY": {"titlePadding": 2},
"title": {"font": "Liberation Serif", "fontSize": 27, "fontWeight": "normal", "color": "#000", "orient": "bottom", "anchor": "middle", "offset": 14, "dx": -16}
}
}
